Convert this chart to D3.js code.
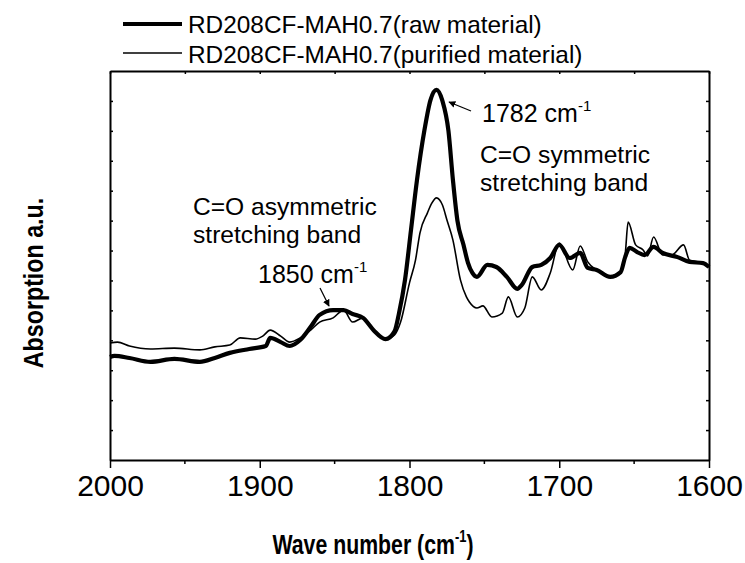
<!DOCTYPE html>
<html lang="en">
<head>
    <meta charset="utf-8">
    <title>FTIR spectrum</title>
    <script src="https://d3js.org/d3.v7.min.js"></script>
    <style type="text/css">
        body
        {
            margin: 0;
            background-color: white;
        }
        svg
        {
            display: block;
            font-family: "Liberation Sans", Arial, sans-serif;
        }
    </style>
</head>
<body>
    <div id="chart_div"></div>
    <script>
    "use strict";

    // series names (legend)
    var series_names = ["RD208CF-MAH0.7(raw material)", "RD208CF-MAH0.7(purified material)"];

    // raw material, thick line
    var raw_wave = [2000, 1997, 1987, 1973, 1957, 1940, 1930, 1920, 1907, 1896, 1893, 1886, 1880, 1873, 1866, 1860,
        1851, 1844, 1838, 1831, 1824, 1816, 1810, 1807, 1803, 1799, 1795, 1790, 1786, 1782, 1778, 1774, 1771, 1768,
        1764, 1761, 1758, 1755, 1748, 1742, 1735, 1728, 1725, 1718, 1712, 1706, 1700, 1693, 1686, 1681, 1675, 1666,
        1659, 1656, 1653, 1648, 1643, 1637, 1631, 1621, 1613, 1604, 1600];
    var raw_abs = [3.44, 3.48, 3.41, 3.28, 3.38, 3.28, 3.41, 3.58, 3.71, 3.81, 4.08, 3.94, 3.81, 4.01, 4.45, 4.85,
        5.01, 5.01, 4.88, 4.75, 4.34, 4.04, 4.30, 4.91, 6.02, 7.69, 9.36, 11.03, 12.03, 12.37, 12.0, 11.0, 9.36, 8.0,
        7.2, 6.6, 6.25, 6.12, 6.52, 6.45, 6.12, 5.72, 5.85, 6.45, 6.52, 6.75, 7.19, 6.75, 6.92, 6.42, 6.35, 6.12,
        6.28, 6.78, 7.09, 6.95, 6.85, 7.12, 6.92, 6.78, 6.62, 6.58, 6.45];

    // purified material, thin line
    var pur_wave = [2000, 1995, 1987, 1973, 1957, 1940, 1930, 1920, 1913, 1903, 1898, 1893, 1886, 1880, 1873, 1866,
        1860, 1851, 1844, 1838, 1831, 1824, 1816, 1810, 1806, 1800, 1796, 1793, 1788, 1785, 1782, 1778, 1775, 1771,
        1766, 1762, 1760, 1755, 1751, 1745, 1738, 1734, 1728, 1723, 1718, 1712, 1706, 1700, 1691, 1686, 1681, 1675,
        1666, 1659, 1656, 1654, 1649, 1644, 1641, 1637, 1631, 1625, 1617, 1613, 1604, 1600];
    var pur_abs = [3.91, 3.94, 3.81, 3.71, 3.74, 3.68, 3.78, 3.84, 4.08, 4.04, 4.14, 4.34, 4.14, 3.94, 4.08, 4.34,
        4.61, 4.75, 5.01, 4.61, 4.75, 4.34, 4.04, 4.18, 4.6, 5.92, 6.68, 7.59, 8.26, 8.59, 8.76, 8.52, 8.02, 7.35,
        6.02, 5.45, 5.28, 5.08, 5.15, 4.78, 4.91, 5.45, 4.78, 5.08, 6.12, 5.68, 6.25, 7.25, 6.35, 7.15, 6.62, 6.35,
        6.12, 6.28, 6.85, 7.95, 7.19, 7.02, 6.82, 7.45, 6.85, 6.85, 7.19, 6.68, 6.58, 6.45];

    var x_major_ticks = [2000, 1900, 1800, 1700, 1600];
    var x_minor_ticks = [1950, 1850, 1750, 1650];
    var y_ticks = [1, 2, 3, 4, 5, 6, 7, 8, 9, 10, 11, 12];

    var svg_width = 745;
    var svg_height = 563;
    var plot_left = 110, plot_right = 709, plot_top = 71, plot_bottom = 460;

    var x = d3.scaleLinear().domain([2000, 1600]).range([plot_left, plot_right]);
    var y = d3.scaleLinear().domain([0, 13]).range([plot_bottom, plot_top]);

    var svg = d3.select("#chart_div")
        .append("svg")
        .attr("width", svg_width)
        .attr("height", svg_height);

    var defs = svg.append("defs");
    defs.append("marker")
        .attr("id", "arrow")
        .attr("viewBox", "0 0 10 10")
        .attr("refX", 9)
        .attr("refY", 5)
        .attr("markerWidth", 7)
        .attr("markerHeight", 7)
        .attr("markerUnits", "userSpaceOnUse")
        .attr("orient", "auto")
        .append("path")
        .attr("d", "M0,0 L10,5 L0,10 z")
        .attr("fill", "black");

    // spectra
    var line = d3.line()
        .x(function(d) { return x(d[0]); })
        .y(function(d) { return y(d[1]); })
        .curve(d3.curveMonotoneX);

    var pur_data = d3.zip(pur_wave, pur_abs);
    var raw_data = d3.zip(raw_wave, raw_abs);

    svg.append("path")
        .datum(pur_data)
        .attr("d", line)
        .attr("fill", "none")
        .attr("stroke", "black")
        .attr("stroke-width", 1.6)
        .attr("stroke-linejoin", "round");
    svg.append("path")
        .datum(raw_data)
        .attr("d", line)
        .attr("fill", "none")
        .attr("stroke", "black")
        .attr("stroke-width", 4.2)
        .attr("stroke-linejoin", "round");

    // axes: bottom outward ticks, top/left/right inward ticks
    var bottom_axis = svg.append("g").attr("transform", "translate(0," + plot_bottom + ")");
    bottom_axis.call(d3.axisBottom(x).tickValues(x_major_ticks).tickSize(8).tickSizeOuter(0).tickFormat(d3.format("d")));
    bottom_axis.selectAll(".minor")
        .data(x_minor_ticks)
        .enter()
        .append("line")
        .attr("class", "minor")
        .attr("x1", function(d) { return x(d); })
        .attr("x2", function(d) { return x(d); })
        .attr("y1", 0)
        .attr("y2", 4)
        .attr("stroke", "black")
        .attr("stroke-width", 1.5);
    bottom_axis.selectAll("text")
        .attr("y", 15)
        .style("font-size", "30px")
        .style("font-family", "'Liberation Sans', Arial, sans-serif");

    var top_axis = svg.append("g").attr("transform", "translate(0," + plot_top + ")");
    top_axis.call(d3.axisTop(x).tickValues(x_major_ticks.concat(x_minor_ticks)).tickSize(-3).tickSizeOuter(0).tickFormat(""));

    var left_axis = svg.append("g").attr("transform", "translate(" + plot_left + ",0)");
    left_axis.call(d3.axisLeft(y).tickValues(y_ticks).tickSize(-3).tickSizeOuter(0).tickFormat(""));

    var right_axis = svg.append("g").attr("transform", "translate(" + plot_right + ",0)");
    right_axis.call(d3.axisRight(y).tickValues(y_ticks).tickSize(-3).tickSizeOuter(0).tickFormat(""));

    svg.selectAll(".domain").attr("stroke-width", 2);
    svg.selectAll(".tick line").attr("stroke-width", 1.5);

    // axis titles (narrow bold face, squeezed along the text)
    var x_title = svg.append("g")
        .attr("transform", "translate(373,554) scale(0.76,1)")
        .append("text")
        .attr("text-anchor", "middle")
        .style("font-size", "28px")
        .style("font-weight", "bold");
    x_title.append("tspan").text("Wave number (cm");
    x_title.append("tspan").attr("dy", -12).style("font-size", "17px").text("-1");
    x_title.append("tspan").attr("dy", 12).text(")");

    svg.append("g")
        .attr("transform", "translate(43,283) rotate(-90) scale(0.83,1)")
        .append("text")
        .attr("text-anchor", "middle")
        .style("font-size", "28px")
        .style("font-weight", "bold")
        .text("Absorption a.u.");

    // legend
    var legend = svg.append("g");
    legend.selectAll("line")
        .data(series_names)
        .enter()
        .append("line")
        .attr("x1", 123)
        .attr("x2", 182)
        .attr("y1", function(d, i) { return 24 + i * 29; })
        .attr("y2", function(d, i) { return 24 + i * 29; })
        .attr("stroke", "black")
        .attr("stroke-width", function(d, i) { return i == 0 ? 4 : 1.6; });
    legend.selectAll("text")
        .data(series_names)
        .enter()
        .append("text")
        .attr("x", 188)
        .attr("y", function(d, i) { return 33 + i * 30; })
        .style("font-size", "24.4px")
        .text(function(d) { return d; });

    // annotations
    function wavenumber_label(px, py, value)
    {
        var t = svg.append("text")
            .attr("x", px)
            .attr("y", py)
            .style("font-size", "25px");
        t.append("tspan").text(value + " cm");
        t.append("tspan").attr("dy", -11).style("font-size", "15px").text("-1");
    }
    wavenumber_label(482, 122, 1782);
    wavenumber_label(258, 283, 1850);

    svg.append("text").attr("x", 480).attr("y", 163).style("font-size", "24.6px").text("C=O symmetric");
    svg.append("text").attr("x", 480).attr("y", 191).style("font-size", "24.6px").text("stretching band");
    svg.append("text").attr("x", 193).attr("y", 215).style("font-size", "24.6px").text("C=O asymmetric");
    svg.append("text").attr("x", 193).attr("y", 243).style("font-size", "24.6px").text("stretching band");

    svg.append("line")
        .attr("x1", 471).attr("y1", 111)
        .attr("x2", 449).attr("y2", 102)
        .attr("stroke", "black")
        .attr("stroke-width", 1.2)
        .attr("marker-end", "url(#arrow)");
    svg.append("line")
        .attr("x1", 320).attr("y1", 288)
        .attr("x2", 329).attr("y2", 306)
        .attr("stroke", "black")
        .attr("stroke-width", 1.2)
        .attr("marker-end", "url(#arrow)");
    </script>
</body>
</html>
